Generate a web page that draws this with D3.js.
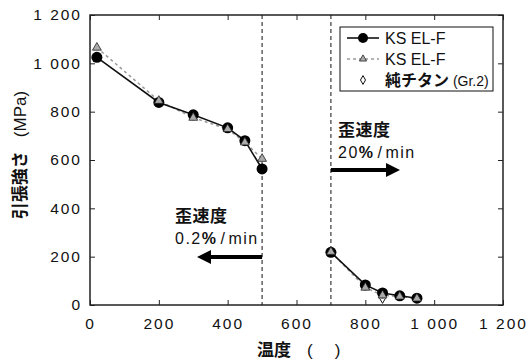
<!DOCTYPE html>
<html>
<head>
<meta charset="utf-8">
<script src="https://cdn.jsdelivr.net/npm/d3@7"></script>
<style>
  body { margin: 0; background: #fff; }
  svg text { font-family: "Liberation Sans", Arial, sans-serif; fill: #111; }
  .jp { font-family: "Noto Sans CJK JP", sans-serif; font-weight: bold; }
</style>
</head>
<body>
<div id="chart"></div>
<script>
// KS EL-F (circles, solid) - two segments
const circleLow = [[20, 1025], [200, 838], [300, 787], [400, 733], [450, 680], [500, 563]]
const circleHigh = [[700, 218], [800, 83], [850, 50], [900, 38], [950, 28]]
// KS EL-F (triangles, gray dashed)
const triLow = [[20, 1065], [200, 845], [300, 775], [400, 728], [450, 673], [500, 605]]
const triHigh = [[700, 220], [800, 72], [850, 40], [900, 35], [950, 27]]
// pure Ti
const diamondPts = [[850, 28]]
const xTicks = [0, 200, 400, 600, 800, 1000, 1200]
const yTicks = [0, 200, 400, 600, 800, 1000, 1200]
const dashedAt = [500, 700]

const W = 528, H = 362
const m = {left: 90, right: 25, top: 15, bottom: 57}

const svg = d3.select('#chart').append('svg').attr('width', W).attr('height', H)

const x = d3.scaleLinear().domain([0, 1200]).range([m.left, W - m.right])
const y = d3.scaleLinear().domain([0, 1200]).range([H - m.bottom, m.top])

const fmt = (v) => v >= 1000 ? '1 ' + String(v).slice(1) : String(v)

// axes, ticks pointing inward
const axisStyle = (g) => {
  g.select('.domain').remove()
  g.selectAll('line').attr('stroke', '#222').attr('stroke-width', 1)
}
svg.append('g').attr('transform', `translate(0,${y(0)})`)
    .call(d3.axisBottom(x).tickValues(xTicks).tickSize(-5).tickPadding(13).tickFormat(fmt))
    .call(axisStyle)
    .selectAll('text').attr('dy', '0.71em')
svg.append('g').attr('transform', `translate(0,${y(1200)})`)
    .call(d3.axisTop(x).tickValues(xTicks).tickSize(-5).tickFormat(''))
    .call(axisStyle)
svg.append('g').attr('transform', `translate(${x(0)},0)`)
    .call(d3.axisLeft(y).tickValues(yTicks).tickSize(-5).tickPadding(8).tickFormat(fmt))
    .call(axisStyle)
svg.append('g').attr('transform', `translate(${x(1200)},0)`)
    .call(d3.axisRight(y).tickValues(yTicks).tickSize(-5).tickFormat(''))
    .call(axisStyle)

svg.selectAll('.tick text').attr('fill', '#111')
    .attr('font-size', 15.5).attr('letter-spacing', 2)
    .style('font-family', '"Liberation Sans", Arial, sans-serif')

svg.append('rect')
    .attr('x', x(0)).attr('y', y(1200))
    .attr('width', x(1200) - x(0)).attr('height', y(0) - y(1200))
    .attr('fill', 'none').attr('stroke', '#222').attr('stroke-width', 1.5)

// dashed verticals
svg.selectAll('line.vdash').data(dashedAt).enter().append('line')
    .attr('class', 'vdash')
    .attr('x1', (d) => x(d)).attr('x2', (d) => x(d))
    .attr('y1', y(1200)).attr('y2', y(0))
    .attr('stroke', '#111').attr('stroke-width', 1).attr('stroke-dasharray', '4,3')

const line = d3.line().x((d) => x(d[0])).y((d) => y(d[1]))

// triangle series lines (gray dashed)
;[triLow, triHigh].forEach((s) => {
  svg.append('path').datum(s).attr('d', line)
      .attr('fill', 'none').attr('stroke', '#999').attr('stroke-width', 1.5)
      .attr('stroke-dasharray', '3,3')
})
// circle series lines
;[circleLow, circleHigh].forEach((s) => {
  svg.append('path').datum(s).attr('d', line)
      .attr('fill', 'none').attr('stroke', '#111').attr('stroke-width', 1.6)
})

const diamond = d3.symbol().type(d3.symbolDiamond).size(30)
const tri = d3.symbol().type(d3.symbolTriangle).size(34)

svg.selectAll('path.dia').data(diamondPts).enter().append('path')
    .attr('class', 'dia').attr('d', diamond)
    .attr('transform', (d) => `translate(${x(d[0])},${y(d[1])})`)
    .attr('fill', '#fff').attr('stroke', '#111').attr('stroke-width', 1)

svg.selectAll('circle.ks').data(circleLow.concat(circleHigh)).enter().append('circle')
    .attr('class', 'ks')
    .attr('cx', (d) => x(d[0])).attr('cy', (d) => y(d[1])).attr('r', 5.5)
    .attr('fill', '#000')

svg.selectAll('path.tri').data(triLow.concat(triHigh)).enter().append('path')
    .attr('class', 'tri').attr('d', tri)
    .attr('transform', (d) => `translate(${x(d[0])},${y(d[1])})`)
    .attr('fill', '#aaa').attr('stroke', '#222').attr('stroke-width', 0.8)

// legend
const lg = svg.append('g').attr('transform', 'translate(340,27)')
lg.append('rect').attr('width', 153).attr('height', 64)
    .attr('fill', '#fff').attr('stroke', '#111').attr('stroke-width', 1)
lg.append('line').attr('x1', 7).attr('x2', 39).attr('y1', 11).attr('y2', 11)
    .attr('stroke', '#111').attr('stroke-width', 1.6)
lg.append('circle').attr('cx', 23).attr('cy', 11).attr('r', 5).attr('fill', '#000')
lg.append('text').attr('x', 45).attr('y', 17).attr('font-size', 16).text('KS EL-F')
lg.append('line').attr('x1', 7).attr('x2', 39).attr('y1', 32).attr('y2', 32)
    .attr('stroke', '#999').attr('stroke-width', 1.5).attr('stroke-dasharray', '3,3')
lg.append('path').attr('d', d3.symbol().type(d3.symbolTriangle).size(22))
    .attr('transform', 'translate(23,32)')
    .attr('fill', '#aaa').attr('stroke', '#222').attr('stroke-width', 0.8)
lg.append('text').attr('x', 45).attr('y', 38).attr('font-size', 16).text('KS EL-F')
lg.append('path').attr('d', d3.symbol().type(d3.symbolDiamond).size(22))
    .attr('transform', 'translate(23,53)')
    .attr('fill', '#fff').attr('stroke', '#111').attr('stroke-width', 1)
const t3 = lg.append('text').attr('x', 45).attr('y', 59).attr('font-size', 16)
t3.append('tspan').attr('class', 'jp').attr('font-size', 16).text('純チタン')
t3.append('tspan').attr('font-size', 14).text(' (Gr.2)')

// strain-rate annotations
const note = (tx, ty, rate) => {
  svg.append('text').attr('class', 'jp').attr('x', tx).attr('y', ty)
      .attr('font-size', 17).attr('letter-spacing', 0.5).text('歪速度')
  const t = svg.append('text').attr('x', tx).attr('y', ty + 22).attr('font-size', 16)
      .attr('letter-spacing', 1.5)
  t.append('tspan').text(rate)
  t.append('tspan').attr('font-weight', 'bold').text('%')
  t.append('tspan').attr('dx', 3).text('/')
  t.append('tspan').attr('dx', 2).text('min')
}
note(175, 222, '0.2')
note(338, 136, '20')

svg.append('defs').append('marker').attr('id', 'ah')
    .attr('viewBox', '0 0 10 10').attr('refX', 5).attr('refY', 5)
    .attr('markerWidth', 3.5).attr('markerHeight', 3.5).attr('orient', 'auto')
  .append('path').attr('d', 'M0,0 L10,5 L0,10 z').attr('fill', '#000')

const arrow = (x1, x2, yy) => {
  svg.append('line').attr('x1', x1).attr('x2', x2).attr('y1', yy).attr('y2', yy)
      .attr('stroke', '#000').attr('stroke-width', 4).attr('marker-end', 'url(#ah)')
}
arrow(x(500), 204, 257)
arrow(x(700), 393, 170)

// axis titles
const xt = svg.append('text').attr('x', 257).attr('y', 356).attr('font-size', 17)
xt.append('tspan').attr('class', 'jp').text('温度')
xt.append('tspan').attr('dx', 16).text('(')
xt.append('tspan').attr('dx', 22).text(')')

const yt = svg.append('text').attr('transform', 'translate(26,155) rotate(-90)')
    .attr('text-anchor', 'middle').attr('font-size', 17)
yt.append('tspan').attr('class', 'jp').text('引張強さ')
yt.append('tspan').attr('dx', 14).text('(MPa)')
</script>
</body>
</html>
